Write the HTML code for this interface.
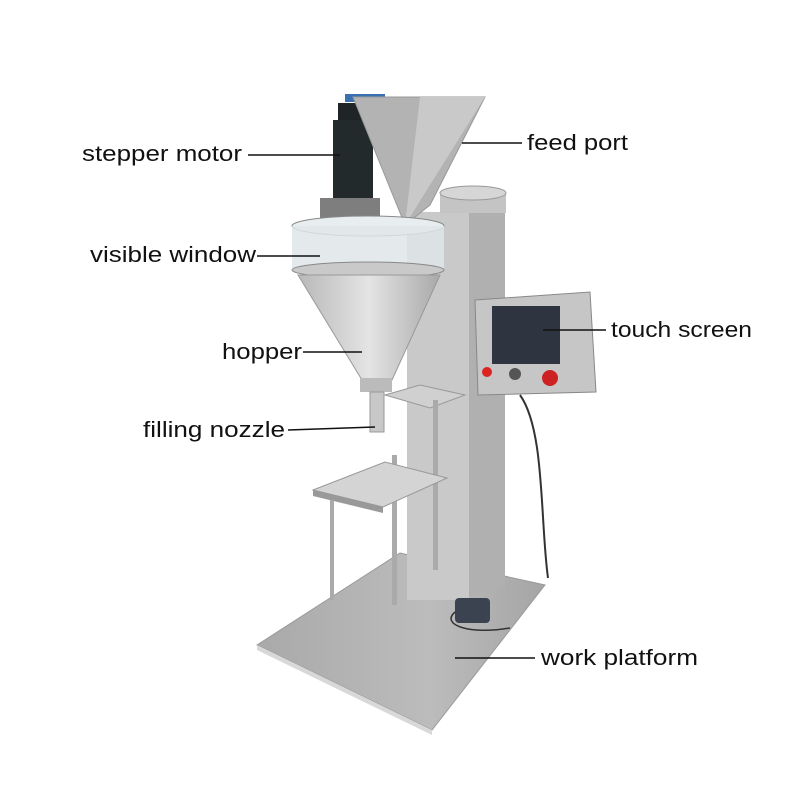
<!DOCTYPE html>
<html><head><meta charset="utf-8"><style>
html,body{margin:0;padding:0;background:#fff;width:800px;height:800px;overflow:hidden}
svg{display:block}
text{font-family:"Liberation Sans",sans-serif;font-size:22px;fill:#111}
</style></head><body>
<svg width="800" height="800" viewBox="0 0 800 800">
<defs>
<linearGradient id="steel" x1="0" x2="1" y1="0" y2="0">
<stop offset="0" stop-color="#b8b8b8"/><stop offset="0.5" stop-color="#e4e4e4"/><stop offset="1" stop-color="#a9a9a9"/></linearGradient>
<linearGradient id="base" x1="0" x2="1" y1="0" y2="0">
<stop offset="0" stop-color="#a9a9a9"/><stop offset="0.6" stop-color="#bcbcbc"/><stop offset="1" stop-color="#a5a5a5"/></linearGradient>
</defs>
<!-- base platform -->
<polygon points="257,645 400,553 545,585 432,730" fill="url(#base)" stroke="#9a9a9a"/>
<polygon points="257,645 432,730 432,735 257,650" fill="#d8d8d8"/>
<!-- column -->
<rect x="407" y="212" width="62" height="388" fill="#c9c9c9"/>
<polygon points="469,212 505,205 505,585 469,597" fill="#b0b0b0"/>
<!-- top disk -->
<rect x="440" y="193" width="66" height="20" fill="#c4c4c4"/>
<ellipse cx="473" cy="193" rx="33" ry="7" fill="#d6d6d6" stroke="#999"/>
<!-- motor -->
<rect x="338" y="103" width="38" height="20" fill="#1f2426"/>
<rect x="333" y="120" width="40" height="80" fill="#222a2c"/>
<rect x="345" y="94" width="40" height="8" fill="#3a6fb0"/>
<rect x="320" y="198" width="60" height="27" fill="#7e7e7e"/>
<!-- feed port -->
<polygon points="353,97 485,97 430,205 405,225" fill="#b3b3b3" stroke="#999"/>
<polygon points="420,97 485,97 405,225" fill="#c9c9c9"/>
<!-- window -->
<ellipse cx="368" cy="226" rx="76" ry="10" fill="#e8eef0" stroke="#888"/>
<rect x="292" y="226" width="152" height="42" fill="#dfe6e8" opacity="0.85"/>
<ellipse cx="368" cy="270" rx="76" ry="8" fill="#c9c9c9" stroke="#888"/>
<!-- hopper cone -->
<polygon points="298,275 440,275 392,380 362,380" fill="url(#steel)" stroke="#999"/>
<rect x="360" y="378" width="32" height="14" fill="#bbb"/>
<!-- nozzle -->
<rect x="370" y="392" width="14" height="40" fill="#c8c8c8" stroke="#999"/>
<!-- upper bracket -->
<polygon points="385,395 420,385 465,395 430,408" fill="#d0d0d0" stroke="#999"/>
<!-- rods -->
<rect x="392" y="455" width="5" height="150" fill="#aaa"/>
<rect x="433" y="400" width="5" height="170" fill="#aaa"/>
<!-- tray -->
<polygon points="313,490 385,462 447,478 383,507" fill="#d4d4d4" stroke="#999"/>
<polygon points="313,490 383,507 383,513 313,496" fill="#999"/>
<rect x="330" y="500" width="4" height="100" fill="#aaa"/>
<!-- touch screen -->
<polygon points="475,300 590,292 596,392 478,395" fill="#c6c6c6" stroke="#888"/>
<rect x="492" y="306" width="68" height="58" fill="#2f3540"/>
<circle cx="487" cy="372" r="5" fill="#d22"/>
<circle cx="515" cy="374" r="6" fill="#555"/>
<circle cx="550" cy="378" r="8" fill="#c22"/>
<path d="M520,395 C545,430 540,520 548,578" stroke="#333" stroke-width="2" fill="none"/>
<!-- foot pedal -->
<rect x="455" y="598" width="35" height="25" rx="4" fill="#3b4350"/>
<path d="M455,612 C440,625 470,635 510,628" stroke="#333" stroke-width="1.5" fill="none"/>
<!-- leader lines -->
<g stroke="#111" stroke-width="1.6">
<line x1="248" y1="155" x2="340" y2="155"/>
<line x1="462" y1="143" x2="522" y2="143"/>
<line x1="257" y1="256" x2="320" y2="256"/>
<line x1="543" y1="330" x2="606" y2="330"/>
<line x1="303" y1="352" x2="362" y2="352"/>
<line x1="288" y1="430" x2="375" y2="427"/>
<line x1="455" y1="658" x2="535" y2="658"/>
</g>
<text x="82" y="161" textLength="160" lengthAdjust="spacingAndGlyphs">stepper motor</text>
<text x="527" y="150" textLength="101" lengthAdjust="spacingAndGlyphs">feed port</text>
<text x="90" y="262" textLength="166" lengthAdjust="spacingAndGlyphs">visible window</text>
<text x="611" y="337" textLength="141" lengthAdjust="spacingAndGlyphs">touch screen</text>
<text x="222" y="359" textLength="80" lengthAdjust="spacingAndGlyphs">hopper</text>
<text x="143" y="437" textLength="142" lengthAdjust="spacingAndGlyphs">filling nozzle</text>
<text x="541" y="665" textLength="157" lengthAdjust="spacingAndGlyphs">work platform</text>
</svg>
</body></html>
